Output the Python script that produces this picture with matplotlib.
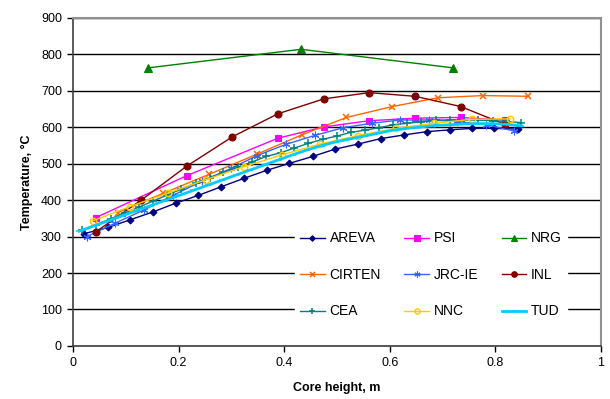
#! /usr/local/bin/python3
# -*- coding: utf-8 -*-

import matplotlib
matplotlib.use("Agg")
import matplotlib.pyplot as plt

plt.rcParams['font.family'] = ['Liberation Sans', 'DejaVu Sans']

###########################################################
# axial temperature profiles, one pair of lists per participant
###########################################################

areva_x = [0.021, 0.066, 0.108, 0.152, 0.195, 0.237, 0.281, 0.324, 0.367, 0.410,
           0.454, 0.496, 0.540, 0.583, 0.627, 0.670, 0.714, 0.756, 0.798, 0.842]
areva_t = [308, 325, 346, 368, 392, 413, 437, 460, 482, 501,
           520, 540, 554, 569, 579, 588, 593, 597, 597, 595]

psi_x = [0.043, 0.215, 0.388, 0.475, 0.561, 0.648, 0.734, 0.818]
psi_t = [352, 467, 570, 601, 618, 625, 627, 620]

nrg_x = [0.142, 0.432, 0.720]
nrg_t = [763, 814, 763]

cirten_x = [0.085, 0.171, 0.258, 0.348, 0.433, 0.518, 0.605, 0.691, 0.776, 0.862]
cirten_t = [366, 419, 471, 526, 579, 627, 657, 681, 687, 685]

jrc_x = [0.026, 0.080, 0.134, 0.189, 0.244, 0.299, 0.348, 0.403, 0.459, 0.512,
         0.566, 0.619, 0.675, 0.728, 0.783, 0.835]
jrc_t = [300, 337, 373, 413, 452, 487, 522, 553, 578, 599,
         611, 620, 620, 616, 607, 590]

inl_x = [0.043, 0.129, 0.215, 0.302, 0.388, 0.475, 0.561, 0.648, 0.734, 0.818]
inl_t = [313, 400, 493, 574, 637, 678, 695, 685, 657, 608]

cea_x = [0.017, 0.044, 0.071, 0.098, 0.125, 0.151, 0.178, 0.205, 0.232, 0.259,
         0.285, 0.312, 0.339, 0.366, 0.393, 0.419, 0.446, 0.473, 0.500, 0.526,
         0.553, 0.580, 0.607, 0.633, 0.660, 0.687, 0.714, 0.741, 0.768, 0.795,
         0.821, 0.848]
cea_t = [318, 333, 349, 365, 381, 397, 414, 430, 447, 462,
         476, 490, 505, 520, 530, 543, 556, 567, 576, 586,
         592, 599, 607, 611, 615, 620, 620, 620, 620, 618,
         616, 613]

nnc_x = [0.037, 0.107, 0.179, 0.251, 0.324, 0.395, 0.468, 0.539, 0.611, 0.683,
         0.756, 0.828]
nnc_t = [343, 382, 419, 456, 492, 524, 554, 577, 597, 611, 622, 623]

tud_x = [0.012, 0.039, 0.066, 0.093, 0.120, 0.147, 0.174, 0.201, 0.228, 0.255,
         0.282, 0.309, 0.336, 0.363, 0.390, 0.417, 0.444, 0.471, 0.498, 0.525,
         0.552, 0.579, 0.606, 0.633, 0.660, 0.687, 0.714, 0.741, 0.768, 0.795,
         0.822, 0.849]
tud_t = [315, 329, 343, 357, 371, 385, 399, 413, 427, 441,
         455, 469, 483, 497, 511, 525, 538, 550, 560, 568,
         576, 584, 592, 597, 601, 605, 607, 609, 610, 610,
         608, 604]

x_ticks = [0, 0.2, 0.4, 0.6, 0.8, 1]
x_tick_labels = ["0", "0.2", "0.4", "0.6", "0.8", "1"]
y_ticks = list(range(0, 901, 100))

###########################################################

series = [
    # label, x, y, color, marker, marker size, line width, open marker
    ("AREVA",  areva_x,  areva_t,  "#000080", "D",       3.5, 1.0, False),
    ("PSI",    psi_x,    psi_t,    "#FF00FF", "s",       5.0, 1.0, False),
    ("NRG",    nrg_x,    nrg_t,    "#008000", "^",       5.5, 1.0, False),
    ("CIRTEN", cirten_x, cirten_t, "#FF6600", "x",       4.5, 1.0, False),
    ("JRC-IE", jrc_x,    jrc_t,    "#3366FF", (6, 2, 0), 5.5, 1.0, False),
    ("INL",    inl_x,    inl_t,    "#800000", "o",       5.0, 1.0, False),
    ("CEA",    cea_x,    cea_t,    "#008080", "+",       5.5, 1.0, False),
    ("NNC",    nnc_x,    nnc_t,    "#FFCC00", "o",       4.5, 1.0, True),
    ("TUD",    tud_x,    tud_t,    "#00CCFF", "_",       4.5, 2.0, False),
]

fig = plt.figure(figsize=(6.10, 3.99), dpi=100)
ax = fig.add_axes([0.1197, 0.133, 0.8655, 0.822])

handles = {}
for (name, xs, ys, col, mk, ms, lw, hollow) in series:
    line, = ax.plot(xs, ys, color=col, lw=lw, marker=mk, markersize=ms,
                    markeredgewidth=1.1 if mk in ("x", "+", "_") or hollow else 0.8,
                    markerfacecolor="none" if hollow else col,
                    markeredgecolor=col, label=name, zorder=3)
    handles[name] = line

ax.set_xlim(0, 1)
ax.set_ylim(0, 900)
ax.set_xticks(x_ticks)
ax.set_xticklabels(x_tick_labels)
ax.set_yticks(y_ticks)
ax.tick_params(labelsize=9, direction="out", length=4, width=1, pad=4)

ax.yaxis.grid(True, color="black", lw=1.0)
ax.set_axisbelow(True)

for side in ("top", "right"):
    ax.spines[side].set_color("#909090")
    ax.spines[side].set_linewidth(1.5)
for side in ("left", "bottom"):
    ax.spines[side].set_color("#404040")
    ax.spines[side].set_linewidth(1.2)

ax.set_xlabel("Core height, m", fontsize=9, fontweight="bold", labelpad=9)
ax.set_ylabel("Temperature, °C", fontsize=9, fontweight="bold", labelpad=6)

# legend is filled column by column, so order the handles that way
order = ["AREVA", "CIRTEN", "CEA", "PSI", "JRC-IE", "NNC", "NRG", "INL", "TUD"]
leg = ax.legend([handles[n] for n in order], order, ncol=3, fontsize=10,
                loc="upper left", bbox_to_anchor=(0.42, 0.366),
                frameon=True, fancybox=False, framealpha=1.0,
                handlelength=1.75, handletextpad=0.35, columnspacing=1.7,
                labelspacing=1.62, borderpad=0.4, borderaxespad=0,
                markerscale=0.8)
leg.get_frame().set_facecolor("white")
leg.get_frame().set_edgecolor("white")
leg.set_zorder(5)

fig.savefig("out.png", dpi=100)
